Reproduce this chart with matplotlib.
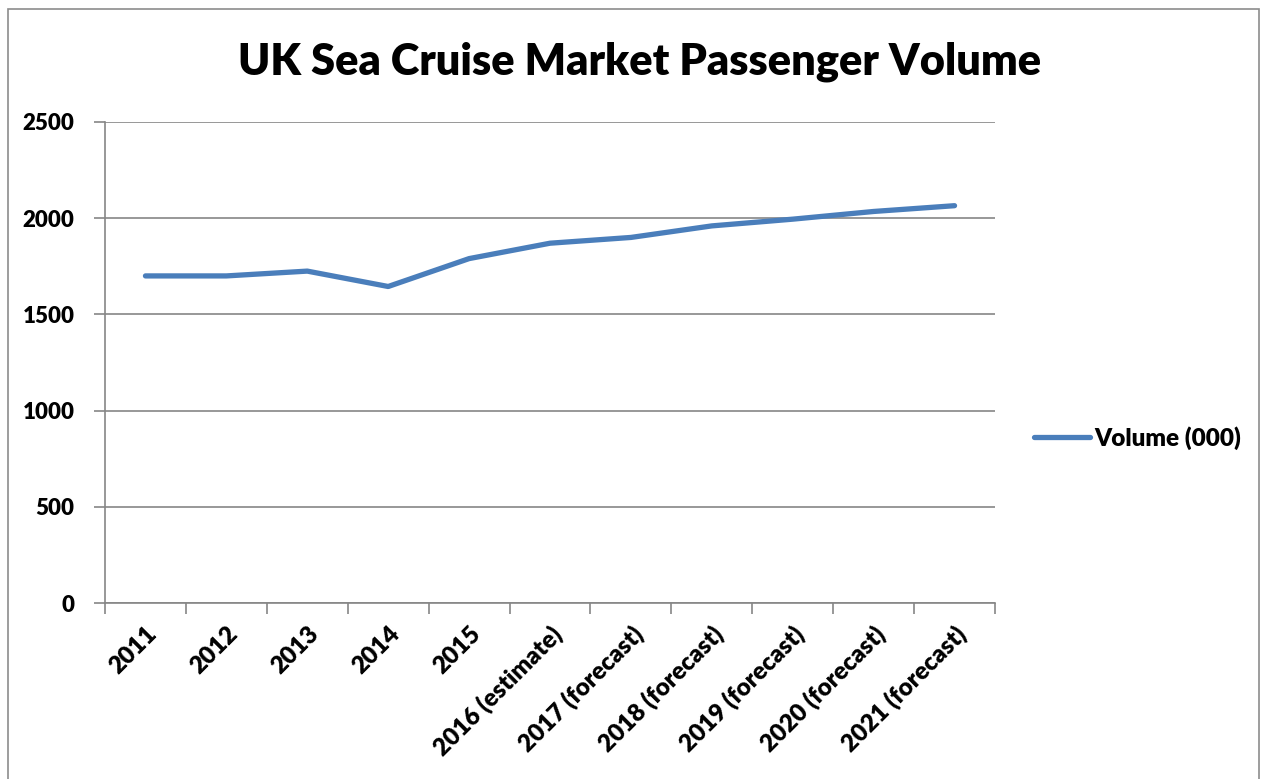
import matplotlib
matplotlib.use('Agg')
import matplotlib.pyplot as plt
from matplotlib.patches import Rectangle

plt.rcParams['font.family'] = ['Lato', 'DejaVu Sans']

# data
years = ['2011', '2012', '2013', '2014', '2015', '2016 (estimate)',
         '2017 (forecast)', '2018 (forecast)', '2019 (forecast)',
         '2020 (forecast)', '2021 (forecast)']
volume = [1700, 1700, 1725, 1645, 1790, 1870, 1900, 1960, 1995, 2035, 2065]
series_name = 'Volume (000)'
yticks = [0, 500, 1000, 1500, 2000, 2500]

W, H = 1271, 779
fig = plt.figure(figsize=(W / 100, H / 100), dpi=100)

# outer chart frame
fig.patches.append(Rectangle((8 / W, -0.05), 1251 / W, 1.05 - 9 / H,
                             transform=fig.transFigure, fill=False,
                             edgecolor='#8c8c8c', lw=1.2))

ax = fig.add_axes([105 / W, (H - 603) / H, 890 / W, 481 / H])
x = list(range(len(years)))
line, = ax.plot(x, volume, color='#4A7EBB', lw=3.8, solid_capstyle='round',
                solid_joinstyle='round', label=series_name, zorder=3)

ax.set_xlim(-0.5, len(years) - 0.5)
ax.set_ylim(0, 2500)
ax.set_yticks(yticks)
ax.set_yticklabels([str(v) for v in yticks], fontsize=16, fontweight='heavy')
ax.yaxis.grid(True, color='#868686', lw=1.2)
ax.set_axisbelow(True)

ax.set_xticks([i - 0.5 for i in range(len(years) + 1)])
ax.set_xticklabels([])
ax.set_xticks(x, minor=True)
ax.set_xticklabels(years, minor=True, rotation=45, ha='right',
                   rotation_mode='anchor', fontsize=17.5, fontweight='heavy')
ax.tick_params(axis='x', which='major', length=8, color='#868686', width=1.2)
ax.tick_params(axis='x', which='minor', length=0, pad=14)
ax.tick_params(axis='y', length=8, color='#868686', width=1.2, pad=14)

for s in ['top', 'right']:
    ax.spines[s].set_visible(False)
for s in ['left', 'bottom']:
    ax.spines[s].set_color('#868686')
    ax.spines[s].set_linewidth(1.2)

fig.text(640 / W, 1 - 62 / H, 'UK Sea Cruise Market Passenger Volume',
         ha='center', va='center', fontsize=31.2, fontweight='heavy')

fig.legend(handles=[line], loc='center left',
           bbox_to_anchor=(1034 / W, 1 - 438 / H), frameon=False,
           prop={'size': 17.5, 'weight': 'heavy'}, handlelength=2.3,
           handletextpad=0.2, borderpad=0, borderaxespad=0)

fig.savefig('out.png', dpi=100)
